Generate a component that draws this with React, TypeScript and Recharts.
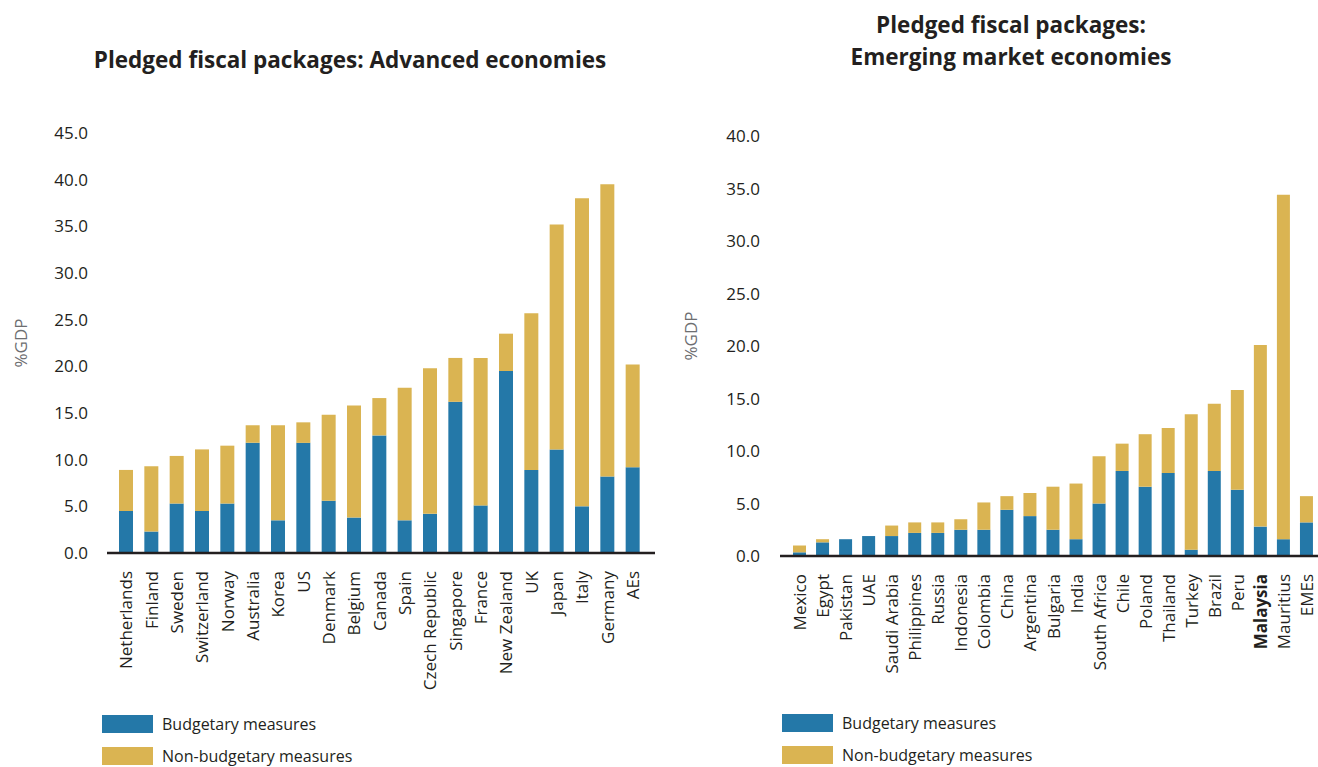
import { BarChart, Bar, XAxis, YAxis } from 'recharts';

const aeCountries = ['Netherlands', 'Finland', 'Sweden', 'Switzerland', 'Norway', 'Australia', 'Korea', 'US', 'Denmark', 'Belgium', 'Canada', 'Spain', 'Czech Republic', 'Singapore', 'France', 'New Zealand', 'UK', 'Japan', 'Italy', 'Germany', 'AEs'];
const aeBudget = [4.5, 2.3, 5.3, 4.5, 5.3, 11.8, 3.5, 11.8, 5.6, 3.8, 12.6, 3.5, 4.2, 16.2, 5.1, 19.5, 8.9, 11.1, 5.0, 8.2, 9.2];
const aeNonBudget = [4.4, 7.0, 5.1, 6.6, 6.2, 1.9, 10.2, 2.2, 9.2, 12.0, 4.0, 14.2, 15.6, 4.7, 15.8, 4.0, 16.8, 24.1, 33.0, 31.3, 11.0];

const emCountries = ['Mexico', 'Egypt', 'Pakistan', 'UAE', 'Saudi Arabia', 'Philippines', 'Russia', 'Indonesia', 'Colombia', 'China', 'Argentina', 'Bulgaria', 'India', 'South Africa', 'Chile', 'Poland', 'Thailand', 'Turkey', 'Brazil', 'Peru', 'Malaysia', 'Mauritius', 'EMEs'];
const emBudget = [0.35, 1.3, 1.6, 1.9, 1.9, 2.2, 2.2, 2.5, 2.5, 4.4, 3.8, 2.5, 1.6, 5.0, 8.1, 6.6, 7.9, 0.6, 8.1, 6.3, 2.8, 1.6, 3.2];
const emNonBudget = [0.65, 0.3, 0, 0, 1.0, 1.0, 1.0, 1.0, 2.6, 1.3, 2.2, 4.1, 5.3, 4.5, 2.6, 5.0, 4.3, 12.9, 6.4, 9.5, 17.3, 32.8, 2.5];

const aeTicks = [0, 5, 10, 15, 20, 25, 30, 35, 40, 45];
const emTicks = [0, 5, 10, 15, 20, 25, 30, 35, 40];

const BLUE = '#2478a8';
const GOLD = '#dab452';
const INK = '#231f20';
const FONT = '"Open Sans", sans-serif';

const aeData = aeCountries.map((name, i) => ({ name, budget: aeBudget[i], nonBudget: aeNonBudget[i] }));
const emData = emCountries.map((name, i) => ({ name, budget: emBudget[i], nonBudget: emNonBudget[i] }));

function CountryTick(props: any) {
  const { x, y, payload } = props;
  const bold = payload.value === 'Malaysia';
  return (
    <text
      transform={`translate(${x},${y + 10}) rotate(-90)`}
      textAnchor="end"
      dominantBaseline="central"
      fontSize={17}
      fontFamily={FONT}
      fontWeight={bold ? 700 : 400}
      fill={INK}
    >
      {payload.value}
    </text>
  );
}

function Legend({ left, top }: { left: number; top: number }) {
  const row = (color: string, label: string, dy: number) => (
    <div style={{ position: 'absolute', left, top: top + dy, display: 'flex', alignItems: 'center' }}>
      <div style={{ width: 51, height: 18, background: color }} />
      <span style={{ marginLeft: 9, fontSize: 16, fontFamily: FONT, color: INK, whiteSpace: 'nowrap' }}>{label}</span>
    </div>
  );
  return (
    <>
      {row(BLUE, 'Budgetary measures', 0)}
      {row(GOLD, 'Non-budgetary measures', 32)}
    </>
  );
}

const titleStyle: React.CSSProperties = {
  position: 'absolute',
  fontFamily: FONT,
  fontWeight: 700,
  fontSize: 22.5,
  color: INK,
  textAlign: 'center',
  lineHeight: '32px',
  whiteSpace: 'nowrap',
};

const yLabelStyle: React.CSSProperties = {
  position: 'absolute',
  fontFamily: FONT,
  fontSize: 17,
  color: '#6d6e71',
  transform: 'translate(-50%, -50%) rotate(-90deg)',
  whiteSpace: 'nowrap',
};

export default function App() {
  return (
    <div style={{ position: 'absolute', left: 0, top: 0, width: 1318, height: 767, background: '#fff', overflow: 'hidden' }}>
      <div style={{ ...titleStyle, left: 0, width: 700, top: 44 }}>Pledged fiscal packages: Advanced economies</div>
      <div style={{ ...titleStyle, left: 711, width: 600, top: 9 }}>
        Pledged fiscal packages:
        <br />
        Emerging market economies
      </div>

      <div style={{ ...yLabelStyle, left: 20, top: 343 }}>%GDP</div>
      <div style={{ ...yLabelStyle, left: 690, top: 336 }}>%GDP</div>

      <div style={{ position: 'absolute', left: 0, top: 0 }}>
        <BarChart width={660} height={767} data={aeData} margin={{ top: 133, right: 5, bottom: 0, left: 0 }} barSize={14}>
          <XAxis
            dataKey="name"
            interval={0}
            height={214}
            tick={<CountryTick />}
            tickLine={false}
            axisLine={{ stroke: INK, strokeWidth: 2.5 }}
            padding={{ left: 6, right: 10 }}
          />
          <YAxis
            width={107}
            domain={[0, 45]}
            ticks={aeTicks}
            tickFormatter={(v: number) => v.toFixed(1)}
            axisLine={false}
            tickLine={false}
            tickSize={0}
            tickMargin={19}
            tick={{ fontSize: 17, fontFamily: FONT, fill: INK }}
          />
          <Bar dataKey="budget" stackId="a" fill={BLUE} isAnimationActive={false} />
          <Bar dataKey="nonBudget" stackId="a" fill={GOLD} isAnimationActive={false} />
        </BarChart>
      </div>

      <div style={{ position: 'absolute', left: 660, top: 0 }}>
        <BarChart width={658} height={767} data={emData} margin={{ top: 136, right: 0, bottom: 0, left: 0 }} barSize={13}>
          <XAxis
            dataKey="name"
            interval={0}
            height={211}
            tick={<CountryTick />}
            tickLine={false}
            axisLine={{ stroke: INK, strokeWidth: 2.5 }}
            padding={{ left: 8, right: 0 }}
          />
          <YAxis
            width={120}
            domain={[0, 40]}
            ticks={emTicks}
            tickFormatter={(v: number) => v.toFixed(1)}
            axisLine={false}
            tickLine={false}
            tickSize={0}
            tickMargin={20}
            tick={{ fontSize: 17, fontFamily: FONT, fill: INK }}
          />
          <Bar dataKey="budget" stackId="a" fill={BLUE} isAnimationActive={false} />
          <Bar dataKey="nonBudget" stackId="a" fill={GOLD} isAnimationActive={false} />
        </BarChart>
      </div>

      <Legend left={102} top={713} />
      <Legend left={782} top={712} />
    </div>
  );
}
